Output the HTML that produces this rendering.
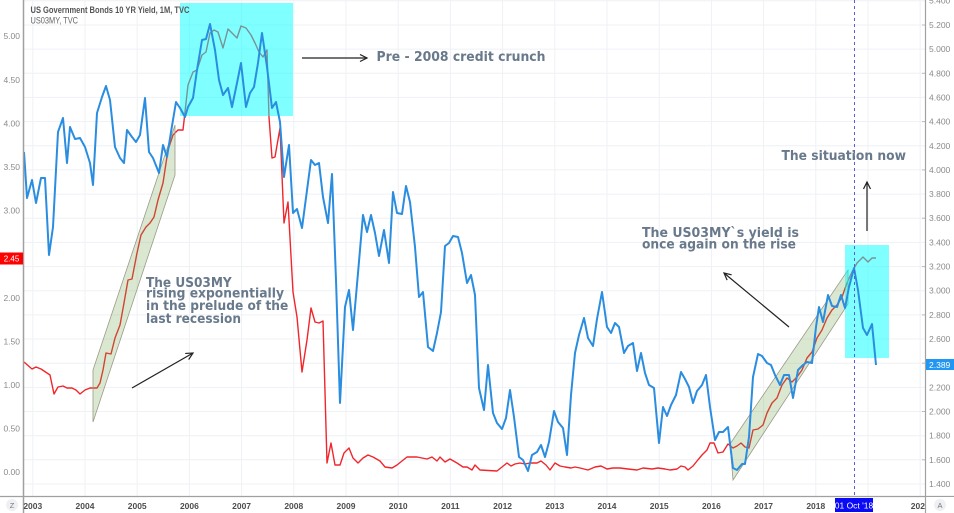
<!DOCTYPE html>
<html><head><meta charset="utf-8">
<style>
html,body{margin:0;padding:0;background:#fff;}
svg{display:block;}
.ann{font-family:"DejaVu Sans","Liberation Sans",sans-serif;font-weight:bold;font-size:13.5px;fill:#68798b;}
.ax{font-family:"Liberation Sans",sans-serif;font-size:8.5px;fill:#8a8a8a;}
.yr{font-family:"Liberation Sans",sans-serif;font-size:8.5px;font-weight:bold;fill:#4d4d4d;}
</style></head>
<body>
<svg width="954" height="513" viewBox="0 0 954 513" xmlns="http://www.w3.org/2000/svg">
<defs>
<marker id="ah" markerWidth="10" markerHeight="10" refX="8" refY="4" orient="auto" markerUnits="userSpaceOnUse">
<path d="M1,0.5 L8,4 L1,7.5" fill="none" stroke="#222" stroke-width="1.2"/>
</marker>
</defs>
<rect width="954" height="513" fill="#fff"/>
<!-- horizontal gridlines -->
<g stroke="#eef1f6" stroke-width="1">
<line x1="24" y1="0.8" x2="925" y2="0.8"/><line x1="24" y1="25" x2="925" y2="25"/><line x1="24" y1="49.1" x2="925" y2="49.1"/><line x1="24" y1="73.3" x2="925" y2="73.3"/><line x1="24" y1="97.4" x2="925" y2="97.4"/><line x1="24" y1="121.6" x2="925" y2="121.6"/><line x1="24" y1="145.8" x2="925" y2="145.8"/><line x1="24" y1="169.9" x2="925" y2="169.9"/><line x1="24" y1="194.1" x2="925" y2="194.1"/><line x1="24" y1="218.2" x2="925" y2="218.2"/><line x1="24" y1="242.4" x2="925" y2="242.4"/><line x1="24" y1="266.6" x2="925" y2="266.6"/><line x1="24" y1="290.7" x2="925" y2="290.7"/><line x1="24" y1="314.9" x2="925" y2="314.9"/><line x1="24" y1="339" x2="925" y2="339"/><line x1="24" y1="363.2" x2="925" y2="363.2"/><line x1="24" y1="387.4" x2="925" y2="387.4"/><line x1="24" y1="411.5" x2="925" y2="411.5"/><line x1="24" y1="435.7" x2="925" y2="435.7"/><line x1="24" y1="459.8" x2="925" y2="459.8"/><line x1="24" y1="484" x2="925" y2="484"/>
</g>
<!-- vertical gridlines -->
<g stroke="#eef1f6" stroke-width="1">
<line x1="32.8" y1="0" x2="32.8" y2="496"/><line x1="85" y1="0" x2="85" y2="496"/><line x1="137.2" y1="0" x2="137.2" y2="496"/><line x1="189.4" y1="0" x2="189.4" y2="496"/><line x1="241.6" y1="0" x2="241.6" y2="496"/><line x1="293.8" y1="0" x2="293.8" y2="496"/><line x1="346" y1="0" x2="346" y2="496"/><line x1="398.2" y1="0" x2="398.2" y2="496"/><line x1="450.4" y1="0" x2="450.4" y2="496"/><line x1="502.6" y1="0" x2="502.6" y2="496"/><line x1="554.8" y1="0" x2="554.8" y2="496"/><line x1="607" y1="0" x2="607" y2="496"/><line x1="659.2" y1="0" x2="659.2" y2="496"/><line x1="711.4" y1="0" x2="711.4" y2="496"/><line x1="763.6" y1="0" x2="763.6" y2="496"/><line x1="815.8" y1="0" x2="815.8" y2="496"/><line x1="868" y1="0" x2="868" y2="496"/><line x1="920.2" y1="0" x2="920.2" y2="496"/>
</g>

<!-- red series (US03MY) -->
<polyline fill="none" stroke="#f0262b" stroke-width="1.4" stroke-linejoin="round" points="24,362 32,369 36,367 41,369 47,373 50,375 54,394 58,387 63,386 67,388 72,388 76,390 80,394 85,390 90,388 97,388 100,383 103,370 106,353 111,354 115,338 120,325 124,303 128,280 132,279 137,253 141,235 146,227 150,223 154,217 158,200 163,183 168,150 173,135 178,130 183,130 188,85 193,72 197,70 202,55 206,52 210,33 214,30 218,32 223,48 228,29 232,33 237,38 241,26 246,28 251,35 255,43 259,52 263,57 267,50 269,117 272,158 275,157 280,128 284,223 288,202 293,292 297,317 302,372 307,340 311,308 315,322 319,323 323,321 327,463 331,443 335,465 340,465 344,453 349,448 353,458 358,463 363,458 368,455 373,457 380,461 385,467 392,468 397,465 402,461 407,457 417,457 427,459 432,457 437,461 440,457 445,462 450,459 457,463 463,467 467,467 472,470 475,465 480,470 497,471 502,467 507,463 511,466 515,464 520,463 525,464 530,463 537,463 541,461 546,465 550,470 555,463 560,466 565,467 571,468 575,467 580,468 588,470 595,467 601,466 607,469 613,468 620,468 628,469 637,470 643,468 652,469 658,468 665,469 670,470 677,469 681,466 685,467 688,470 693,466 697,461 702,455 707,450 710,443 714,443 718,453 723,452 728,444 733,448 737,446 741,443 745,447 749,448 753,430 758,429 763,425 767,413 772,403 777,398 782,385 787,378 792,382 797,377 802,370 807,358 812,352 817,338 822,330 827,318 832,310 837,305 842,297 847,283 852,272 857,263 863,257 868,262 872,258 876,258"/>

<!-- green channels -->
<polygon points="93,370 175,125 175,175 93,422" fill="rgba(110,165,70,0.25)" stroke="#9a9a88" stroke-width="0.8"/>
<polygon points="730,444 848,270 848,304 733,480" fill="rgba(110,165,70,0.25)" stroke="#9a9a88" stroke-width="0.8"/>

<!-- cyan boxes -->
<rect x="180" y="3" width="113" height="113" fill="rgba(0,255,255,0.5)"/>
<rect x="845" y="245" width="44" height="113" fill="rgba(0,255,255,0.5)"/>

<!-- blue series (10Y) -->
<polyline fill="none" stroke="#2a8de0" stroke-width="2" stroke-linejoin="round" points="24,152 27,198 32,180 36,203 41,178 45,178 49,255 53,227 58,132 63,118 67,163 70,127 75,139 80,138 85,147 90,163 93,185 97,113 102,97 106,86 110,100 115,147 120,158 124,163 127,130 132,137 136,142 140,135 145,98 149,152 153,158 159,173 163,145 167,157 171,132 176,102 180,108 185,117 188,107 193,98 197,70 202,40 206,39 210,24 215,50 219,80 223,95 228,88 232,107 237,83 241,63 246,107 250,93 254,87 258,63 262,33 267,67 272,108 276,102 280,122 284,177 289,145 293,213 297,209 302,228 311,160 315,165 319,163 323,197 328,223 332,174 336,280 340,403 345,307 349,290 353,330 358,273 363,215 367,232 371,215 375,233 379,256 384,230 389,263 393,192 397,213 402,214 406,186 410,202 415,247 419,297 423,292 428,347 433,351 437,333 441,312 445,246 449,243 453,236 458,237 462,253 467,283 471,275 475,295 479,388 484,410 488,365 493,413 497,423 502,429 506,418 510,390 514,417 519,457 523,460 528,471 532,455 537,452 541,445 545,457 549,442 554,411 558,422 563,428 567,455 571,395 575,353 579,335 584,318 588,338 593,346 597,319 602,292 607,327 611,333 615,323 619,327 624,353 628,346 633,343 637,371 641,353 645,373 649,385 654,388 659,443 663,407 667,416 671,405 676,395 681,372 685,379 689,387 693,403 697,391 702,385 706,375 710,407 715,440 719,432 723,432 728,427 733,468 737,470 742,464 745,464 749,437 753,377 758,354 762,356 767,363 771,365 775,375 780,385 784,375 789,375 793,398 798,370 803,365 807,362 812,363 816,327 819,307 823,322 828,295 832,306 837,307 841,295 845,308 849,287 854,268 858,290 863,328 867,335 872,324 876,365"/>

<!-- crosshair dashed -->
<line x1="854.5" y1="0" x2="854.5" y2="496" stroke="#5b5bdb" stroke-width="1" stroke-dasharray="3,3"/>

<!-- arrows -->
<g stroke="#222" stroke-width="1.2" fill="none">
<line x1="132" y1="388" x2="193" y2="353" marker-end="url(#ah)"/>
<line x1="302" y1="58" x2="367" y2="58" marker-end="url(#ah)"/>
<line x1="867" y1="231" x2="867" y2="182" marker-end="url(#ah)"/>
<line x1="789" y1="327" x2="724" y2="273" marker-end="url(#ah)"/>
</g>

<!-- annotations -->
<text class="ann" x="376.5" y="61" textLength="169" lengthAdjust="spacingAndGlyphs">Pre - 2008 credit crunch</text>
<text class="ann" x="781.5" y="160" textLength="124.5" lengthAdjust="spacingAndGlyphs">The situation now</text>
<text class="ann" x="642" y="237" textLength="157" lengthAdjust="spacingAndGlyphs">The US03MY`s yield is</text>
<text class="ann" x="642" y="248.5" textLength="154" lengthAdjust="spacingAndGlyphs">once again on the rise</text>
<text class="ann" x="146" y="287" textLength="85.7" lengthAdjust="spacingAndGlyphs">The US03MY</text>
<text class="ann" x="146" y="297.5" textLength="138" lengthAdjust="spacingAndGlyphs">rising exponentially</text>
<text class="ann" x="146" y="310" textLength="142.3" lengthAdjust="spacingAndGlyphs">in the prelude of the</text>
<text class="ann" x="146" y="323" textLength="95" lengthAdjust="spacingAndGlyphs">last recession</text>

<!-- title -->
<text x="30.5" y="13" font-family="Liberation Sans, sans-serif" font-size="9.5" font-weight="bold" fill="#555" textLength="159" lengthAdjust="spacingAndGlyphs">US Government Bonds 10 YR Yield, 1M, TVC</text>
<text x="30.5" y="23.5" font-family="Liberation Sans, sans-serif" font-size="9.5" fill="#666" textLength="47.5" lengthAdjust="spacingAndGlyphs">US03MY, TVC</text>

<!-- left axis -->
<rect x="0" y="0" width="23" height="496" fill="#fff"/>
<line x1="23.5" y1="0" x2="23.5" y2="513" stroke="#a0a0a0" stroke-width="1.5"/>
<g class="ax" text-anchor="end">
<text x="20" y="39">5.00</text>
<text x="20" y="83">4.50</text>
<text x="20" y="126.5">4.00</text>
<text x="20" y="170">3.50</text>
<text x="20" y="213.5">3.00</text>
<text x="20" y="301">2.00</text>
<text x="20" y="344.5">1.50</text>
<text x="20" y="388">1.00</text>
<text x="20" y="431.5">0.50</text>
<text x="20" y="475">0.00</text>
</g>
<rect x="0" y="252.5" width="23" height="12" fill="#ff0000"/>
<text x="11.5" y="261.5" text-anchor="middle" font-family="Liberation Sans, sans-serif" font-size="8" fill="#fff">2.45</text>

<!-- right axis -->
<rect x="926" y="0" width="28" height="496" fill="#fff"/>
<line x1="925.5" y1="0" x2="925.5" y2="513" stroke="#a0a0a0" stroke-width="1.2"/>
<g stroke="#bbb" stroke-width="1">
<line x1="922" y1="25" x2="925" y2="25"/><line x1="922" y1="73.3" x2="925" y2="73.3"/><line x1="922" y1="121.6" x2="925" y2="121.6"/><line x1="922" y1="169.9" x2="925" y2="169.9"/><line x1="922" y1="218.2" x2="925" y2="218.2"/><line x1="922" y1="266.6" x2="925" y2="266.6"/><line x1="922" y1="314.9" x2="925" y2="314.9"/><line x1="922" y1="363.2" x2="925" y2="363.2"/><line x1="922" y1="411.5" x2="925" y2="411.5"/><line x1="922" y1="459.8" x2="925" y2="459.8"/>
</g>
<g class="ax">
<text x="929" y="3.5">5.400</text>
<text x="929" y="28">5.200</text>
<text x="929" y="52">5.000</text>
<text x="929" y="76.3">4.800</text>
<text x="929" y="100.4">4.600</text>
<text x="929" y="124.6">4.400</text>
<text x="929" y="148.8">4.200</text>
<text x="929" y="172.9">4.000</text>
<text x="929" y="197.1">3.800</text>
<text x="929" y="221.2">3.600</text>
<text x="929" y="245.4">3.400</text>
<text x="929" y="269.6">3.200</text>
<text x="929" y="293.7">3.000</text>
<text x="929" y="317.9">2.800</text>
<text x="929" y="342">2.600</text>
<text x="929" y="390.4">2.200</text>
<text x="929" y="414.5">2.000</text>
<text x="929" y="438.7">1.800</text>
<text x="929" y="462.8">1.600</text>
<text x="929" y="487">1.400</text>
</g>
<rect x="926" y="359" width="28" height="11" fill="#2196f3"/>
<text x="929" y="367.8" font-family="Liberation Sans, sans-serif" font-size="8.5" fill="#fff">2.389</text>

<!-- bottom axis -->
<rect x="0" y="496.5" width="954" height="16.5" fill="#fff"/>
<line x1="0" y1="496.5" x2="954" y2="496.5" stroke="#a0a0a0" stroke-width="1.2"/>
<line x1="23.5" y1="496" x2="23.5" y2="513" stroke="#a0a0a0" stroke-width="1.5"/>
<g class="yr" text-anchor="middle">
<text x="32.8" y="509">2003</text>
<text x="85" y="509">2004</text>
<text x="137.2" y="509">2005</text>
<text x="189.4" y="509">2006</text>
<text x="241.6" y="509">2007</text>
<text x="293.8" y="509">2008</text>
<text x="346" y="509">2009</text>
<text x="398.2" y="509">2010</text>
<text x="450.4" y="509">2011</text>
<text x="502.6" y="509">2012</text>
<text x="554.8" y="509">2013</text>
<text x="607" y="509">2014</text>
<text x="659.2" y="509">2015</text>
<text x="711.4" y="509">2016</text>
<text x="763.6" y="509">2017</text>
<text x="815.8" y="509">2018</text>
<text x="920.2" y="509">2020</text>
</g>
<rect x="926" y="497" width="28" height="16" fill="#fff"/>
<line x1="925.5" y1="496" x2="925.5" y2="513" stroke="#a0a0a0" stroke-width="1.2"/>
<rect x="835" y="498" width="38" height="14" fill="#0a0af5"/>
<text x="854" y="508.5" text-anchor="middle" font-family="Liberation Sans, sans-serif" font-size="8.5" fill="#fff">01 Oct '18</text>

<!-- corner buttons -->
<circle cx="12" cy="505" r="6" fill="#eef0f3"/>
<text x="12" y="508" text-anchor="middle" font-family="Liberation Sans, sans-serif" font-size="7.5" fill="#777">Z</text>
<circle cx="940" cy="505" r="6" fill="#eef0f3"/>
<text x="940" y="508" text-anchor="middle" font-family="Liberation Sans, sans-serif" font-size="7.5" fill="#777">A</text>
</svg>
</body></html>
